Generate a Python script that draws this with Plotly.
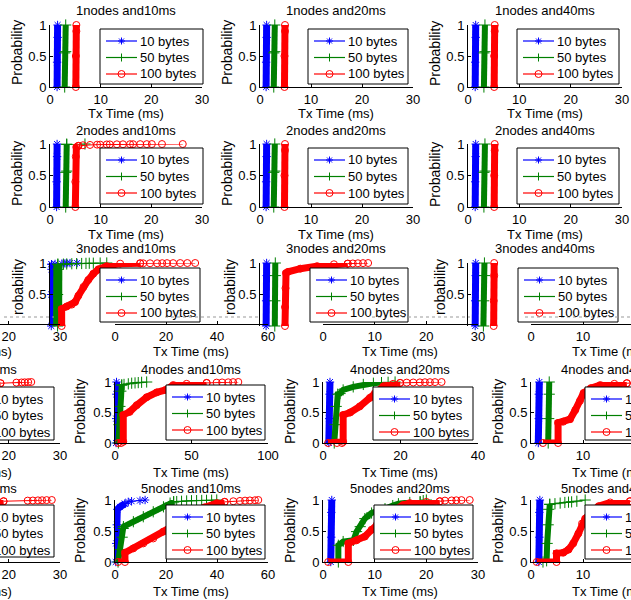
import plotly.graph_objects as go

W, H = 631, 600
FONT = "Liberation Sans, Arial, Helvetica, sans-serif"

# ---------------- data: empirical CDFs, Tx time (ms) vs cumulative probability ----------------
# <panel>_<payload>_x / _p : densely sampled part of the curve
# <panel>_<payload>_tx / _tp : sparse tail samples
n1_10_b10_x = [1.4, 1.4, 1.5, 1.5];  n1_10_b10_p = [0, 0.4, 0.8, 1]
n1_10_b50_x = [2.9, 2.9, 3.1, 3.1];  n1_10_b50_p = [0, 0.55, 0.57, 1]
n1_10_b100_x = [5.1, 5.1, 5.2, 5.2]; n1_10_b100_p = [0, 0.5, 0.9, 1]

n1_20_b10_x = [1.2, 1.2, 1.3, 1.3];  n1_20_b10_p = [0, 0.4, 0.8, 1]
n1_20_b50_x = [2.7, 2.7, 2.9, 2.9];  n1_20_b50_p = [0, 0.55, 0.57, 1]
n1_20_b100_x = [4.8, 4.8, 4.9, 4.9]; n1_20_b100_p = [0, 0.5, 0.9, 1]

n1_40_b10_x = [1.4, 1.4, 1.5, 1.5];  n1_40_b10_p = [0, 0.4, 0.8, 1]
n1_40_b50_x = [3.1, 3.1, 3.3, 3.3];  n1_40_b50_p = [0, 0.55, 0.57, 1]
n1_40_b100_x = [5.1, 5.1, 5.2, 5.2]; n1_40_b100_p = [0, 0.5, 0.9, 1]

n2_10_b10_x = [1.3, 1.3, 1.4, 1.4];  n2_10_b10_p = [0, 0.4, 0.8, 1]
n2_10_b50_x = [3.1, 3.1, 3.3, 3.3];  n2_10_b50_p = [0, 0.55, 0.57, 0.995]
n2_10_b50_tx = [6.9];                n2_10_b50_tp = [1]
n2_10_b100_x = [5.0, 5.0, 5.1, 5.2, 5.6]; n2_10_b100_p = [0, 0.4, 0.8, 0.95, 0.97]
n2_10_b100_tx = [6.5, 7.9, 9.3, 9.9, 11.2, 11.8, 13.2, 14.4, 15.8, 16.4, 17.8, 19.1, 20.1, 22.1, 26.2]
n2_10_b100_tp = [0.98, 0.985, 0.99, 0.99, 0.993, 0.994, 0.995, 0.996, 0.997, 0.997, 0.998, 0.998, 0.999, 0.999, 1]

n2_20_b10_x = [1.2, 1.2, 1.3, 1.3];  n2_20_b10_p = [0, 0.4, 0.8, 1]
n2_20_b50_x = [2.7, 2.7, 2.9, 2.9];  n2_20_b50_p = [0, 0.55, 0.57, 1]
n2_20_b100_x = [4.8, 4.8, 4.9, 4.9]; n2_20_b100_p = [0, 0.5, 0.9, 1]

n2_40_b10_x = [1.4, 1.4, 1.5, 1.5];  n2_40_b10_p = [0, 0.4, 0.8, 1]
n2_40_b50_x = [3.1, 3.1, 3.3, 3.3];  n2_40_b50_p = [0, 0.55, 0.57, 1]
n2_40_b100_x = [5.1, 5.1, 5.2, 5.2]; n2_40_b100_p = [0, 0.5, 0.9, 1]

n3_10_b10_x = [0.5, 0.5, 0.6, 0.6];  n3_10_b10_p = [0, 0.5, 0.9, 0.98]
n3_10_b10_tx = [2.0, 4.7, 5.9, 6.7, 7.9, 10.7]
n3_10_b10_tp = [0.985, 0.99, 0.993, 0.995, 0.998, 1]
n3_10_b50_x = [3.0, 3.0, 3.1, 3.1];  n3_10_b50_p = [0, 0.5, 0.9, 0.98]
n3_10_b50_tx = [5.3, 6.6, 8.6, 10.5, 12.5, 14.2, 15.5, 17.1, 19.8, 22.4]
n3_10_b50_tp = [0.982, 0.985, 0.988, 0.99, 0.992, 0.994, 0.996, 0.997, 0.999, 1]
n3_10_b100_x = [4.6, 4.6, 6.6, 8.6, 9.9, 11.2, 13.2, 15.1, 17.1, 19.1, 22.4, 27.7, 35.6]
n3_10_b100_p = [0, 0.27, 0.31, 0.34, 0.38, 0.48, 0.62, 0.73, 0.83, 0.90, 0.95, 0.99, 0.995]
n3_10_b100_tx = [36.8, 39.5, 42.3, 44.3, 46.2, 48.6, 51.4, 54.2, 57.3]
n3_10_b100_tp = [0.995, 0.996, 0.996, 0.997, 0.998, 0.998, 0.999, 0.999, 1]

n3_20_b10_x = [1.2, 1.2, 1.3, 1.3];  n3_20_b10_p = [0, 0.4, 0.8, 1]
n3_20_b50_x = [2.9, 2.9, 3.0, 3.0];  n3_20_b50_p = [0, 0.4, 0.8, 1]
n3_20_b100_x = [4.9, 4.9, 5.0, 5.1, 5.5, 7.9, 11.2, 14.5, 17.2]
n3_20_b100_p = [0, 0.3, 0.6, 0.84, 0.86, 0.91, 0.95, 0.98, 0.99]
n3_20_b100_tx = [18.2, 19.2, 20.2, 21.2]; n3_20_b100_tp = [0.993, 0.996, 0.998, 1]

n3_40_b10_x = [1.4, 1.4, 1.5, 1.5];  n3_40_b10_p = [0, 0.4, 0.8, 1]
n3_40_b50_x = [3.0, 3.0, 3.2, 3.2];  n3_40_b50_p = [0, 0.4, 0.8, 1]
n3_40_b100_x = [5.0, 5.0, 5.1, 5.1]; n3_40_b100_p = [0, 0.4, 0.8, 1]

n4_10_b10_x = [0.7, 0.8, 0.9, 1.0];  n4_10_b10_p = [0, 0.4, 0.8, 1]
n4_10_b50_x = [2.2, 2.6, 3.2, 3.8, 4.4]; n4_10_b50_p = [0, 0.3, 0.6, 0.85, 0.95]
n4_10_b50_tx = [5.9, 8.7, 10.9, 13.1, 15.2, 17.4, 20.7]
n4_10_b50_tp = [0.96, 0.97, 0.98, 0.985, 0.99, 0.995, 1]
n4_10_b100_x = [2.0, 4.0, 5.4, 5.4, 9.6, 14.2, 20.7, 27.3, 33.1, 38.1, 46.8, 59.9]
n4_10_b100_p = [0, 0, 0.02, 0.46, 0.51, 0.62, 0.75, 0.83, 0.87, 0.95, 0.97, 0.985]
n4_10_b100_tx = [66.4, 70.0, 74.0, 77.2, 80.6]; n4_10_b100_tp = [0.99, 0.993, 0.995, 0.998, 1]

n4_20_b10_x = [1.5, 1.6, 1.7, 1.8];  n4_20_b10_p = [0, 0.4, 0.8, 1]
n4_20_b50_x = [2.9, 3.1, 3.4, 3.8, 4.4, 5.2, 7.8, 10.4, 13.0, 15.1]
n4_20_b50_p = [0, 0.3, 0.6, 0.8, 0.81, 0.87, 0.92, 0.96, 0.98, 0.99]
n4_20_b50_tx = [16.8, 18.6]; n4_20_b50_tp = [0.995, 1]
n4_20_b100_x = [1.3, 3.6, 4.9, 5.2, 5.2, 7.0, 9.5, 12.1, 13.4, 15.6, 18.1, 19.9]
n4_20_b100_p = [0, 0, 0, 0.02, 0.46, 0.5, 0.6, 0.74, 0.82, 0.93, 0.97, 0.985]
n4_20_b100_tx = [21.6, 23.3, 25.0, 26.3, 27.6, 28.9, 30.6]
n4_20_b100_tp = [0.99, 0.992, 0.994, 0.996, 0.997, 0.998, 1]

n4_40_b10_x = [1.4, 1.5, 1.5, 1.6];  n4_40_b10_p = [0, 0.4, 0.8, 1]
n4_40_b50_x = [3.3, 3.4, 3.5, 3.5];  n4_40_b50_p = [0, 0.4, 0.8, 1]
n4_40_b100_x = [2.3, 5.2, 5.2, 6.2, 7.5, 8.5, 9.4, 10.1, 11.5, 13.3, 16.0, 18.4]
n4_40_b100_p = [0, 0, 0.33, 0.35, 0.39, 0.54, 0.69, 0.82, 0.9, 0.95, 0.97, 0.98]
n4_40_b100_tx = [21.5, 22.5, 23.1, 23.8, 24.4]; n4_40_b100_tp = [0.99, 0.993, 0.995, 0.997, 1]

n5_10_b10_x = [0.3, 0.5, 0.7, 0.9, 2.0, 3.9]; n5_10_b10_p = [0, 0.3, 0.6, 0.85, 0.89, 0.94]
n5_10_b10_tx = [5.2, 6.5, 9.8, 11.8]; n5_10_b10_tp = [0.97, 0.98, 0.99, 1]
n5_10_b50_x = [1.2, 2.0, 2.8, 3.2, 3.3, 7.2, 11.1, 15.0, 19.0, 21.6, 23.0]
n5_10_b50_p = [0, 0.2, 0.4, 0.54, 0.57, 0.65, 0.73, 0.81, 0.89, 0.95, 0.97]
n5_10_b50_tx = [24.2, 26.1, 28.1, 30.0, 32.0, 34.0, 35.9, 37.9, 39.9]
n5_10_b50_tp = [0.975, 0.98, 0.985, 0.988, 0.99, 0.993, 0.995, 0.997, 1]
n5_10_b100_x = [1.2, 3.9, 3.9, 7.2, 11.1, 15.0, 18.9, 25.0, 30.0, 35.0, 40.0, 43.0]
n5_10_b100_p = [0, 0, 0.15, 0.22, 0.30, 0.38, 0.49, 0.65, 0.78, 0.88, 0.95, 0.97]
n5_10_b100_tx = [46.4, 49.0, 51.0, 52.9, 54.9, 56.2]
n5_10_b100_tp = [0.98, 0.985, 0.99, 0.993, 0.996, 1]

n5_20_b10_x = [1.5, 1.6, 1.6, 1.7];  n5_20_b10_p = [0, 0.4, 0.8, 1]
n5_20_b50_x = [2.97, 2.97, 3.9, 5.9, 6.5, 7.2, 8.1, 9.4, 10.4, 12.0, 13.5, 14.6, 16.8, 18.8]
n5_20_b50_p = [0, 0.27, 0.33, 0.35, 0.49, 0.57, 0.70, 0.79, 0.81, 0.86, 0.91, 0.94, 0.96, 0.97]
n5_20_b50_tx = [19.4, 20.0]; n5_20_b50_tp = [0.99, 1]
n5_20_b100_x = [1.0, 4.9, 4.9, 6.5, 8.1, 9.4, 10.4, 12.0, 14.0, 15.5, 16.8, 20.0, 22.6]
n5_20_b100_p = [0, 0, 0.30, 0.35, 0.41, 0.52, 0.60, 0.72, 0.85, 0.92, 0.95, 0.97, 0.98]
n5_20_b100_tx = [23.6, 24.9, 25.8, 26.8, 28.4]; n5_20_b100_tp = [0.99, 0.993, 0.995, 0.998, 1]

n5_40_b10_x = [1.5, 1.6, 1.6, 1.7];  n5_40_b10_p = [0, 0.4, 0.8, 1]
n5_40_b50_x = [2.3, 3.0, 3.1, 3.3, 3.4, 3.6]; n5_40_b50_p = [0, 0.02, 0.3, 0.6, 0.85, 0.93]
n5_40_b50_tx = [4.6, 5.6, 6.5, 7.2, 7.8, 8.8, 10.4]
n5_40_b50_tp = [0.94, 0.95, 0.96, 0.965, 0.97, 0.98, 1]
n5_40_b100_x = [1.1, 4.9, 4.9, 6.2, 7.2, 8.1, 9.1, 9.8, 10.4, 11.5, 13.0, 15.2, 19.0]
n5_40_b100_p = [0, 0, 0.14, 0.15, 0.2, 0.3, 0.46, 0.62, 0.7, 0.8, 0.9, 0.96, 0.98]
n5_40_b100_tx = [23.7, 24.7, 25.7, 26.5, 27.4, 28.4]
n5_40_b100_tp = [0.99, 0.992, 0.994, 0.996, 0.998, 1]

SERIES = [("b10", "10 bytes"), ("b50", "50 bytes"), ("b100", "100 bytes")]

# ---------------- styles / layout (pixels) ----------------
STYLE = {
    "b10": dict(color="#0000ff", symbol="asterisk-open", size=7, band=7),
    "b50": dict(color="#008000", symbol="cross-thin-open", size=8, band=6),
    "b100": dict(color="#ff0000", symbol="circle-open", size=7, band=7),
}
BAND_OVERRIDE = {("n3_10", "b50"): 9, ("n3_10", "b10"): 5}

C1, C2, C3 = (50, 202), (260, 413), (468, 622)
LP, CA, CB, CC = (0, 60), (115, 268), (323, 478), (531, 631)
R1, R2, R3, R4, R5 = (25, 87), (144, 207), (263, 326), (382, 443), (500, 562)
RJ = (323, 324)

Y3 = [0, 0.5, 1]
PANELS = [
    ("n1_10", C1, R1, [0, 30], [0, 10, 20, 30], Y3),
    ("n1_20", C2, R1, [0, 30], [0, 10, 20, 30], Y3),
    ("n1_40", C3, R1, [0, 30], [0, 10, 20, 30], Y3),
    ("n2_10", C1, R2, [0, 30], [0, 10, 20, 30], Y3),
    ("n2_20", C2, R2, [0, 30], [0, 10, 20, 30], Y3),
    ("n2_40", C3, R2, [0, 30], [0, 10, 20, 30], Y3),
    ("n3_10", C1, R3, [0, 60], None, [0.5, 1]),
    ("n3_20", C2, R3, [0, 30], None, [0.5, 1]),
    ("n3_40", C3, R3, [0, 30], None, [0.5, 1]),
    (None, LP, RJ, [18.3, 30], [20, 30], None),
    (None, CA, RJ, [0, 60], [0, 20, 40, 60], None),
    (None, CB, RJ, [0, 30], [0, 10, 20, 30], None),
    (None, CC, RJ, [0, 19.2], [0, 10], None),
    ("n4_40", LP, R4, [18.3, 30], [20, 30], None),
    ("n4_10", CA, R4, [0, 100], [0, 50, 100], Y3),
    ("n4_20", CB, R4, [0, 40], [0, 20, 40], Y3),
    ("n4_40", CC, R4, [0, 19.2], [0, 10], Y3),
    ("n5_40", LP, R5, [18.3, 30], [20, 30], None),
    ("n5_10", CA, R5, [0, 60], [0, 20, 40, 60], Y3),
    ("n5_20", CB, R5, [0, 30], [0, 10, 20, 30], Y3),
    ("n5_40", CC, R5, [0, 19.2], [0, 10], Y3),
]


def X(px):
    return px / W


def Y(py):
    return 1 - py / H


g = globals()
fig = go.Figure()
layout = dict(
    width=W, height=H,
    margin=dict(l=0, r=0, t=0, b=0, autoexpand=False),
    paper_bgcolor="white", plot_bgcolor="rgba(0,0,0,0)",
    showlegend=False,
    font=dict(family=FONT, size=13, color="black"),
)

for i, (key, (L, R), (T, B), xr, xt, yt) in enumerate(PANELS, start=1):
    sfx = "" if i == 1 else str(i)
    common = dict(showline=True, linecolor="black", linewidth=1, ticks="inside", ticklen=3,
                  tickcolor="black", showgrid=False, zeroline=False, fixedrange=True,
                  tickfont=dict(size=13, family=FONT, color="black"))
    layout["xaxis" + sfx] = dict(domain=[X(L), X(R)], range=xr, anchor="y" + sfx,
                                 visible=xt is not None, tickvals=xt or [], **common)
    layout["yaxis" + sfx] = dict(domain=[Y(B), Y(T)], range=[0, 1], anchor="x" + sfx,
                                 visible=yt is not None, tickvals=yt or [], **common)
    if key is None:
        fig.add_trace(go.Scatter(x=[None], y=[None], xaxis="x" + sfx, yaxis="y" + sfx,
                                 mode="markers", hoverinfo="skip"))
        continue
    for s, _ in SERIES:
        st = STYLE[s]
        xs = g[f"{key}_{s}_x"]
        ps = g[f"{key}_{s}_p"]
        band = BAND_OVERRIDE.get((key, s), st["band"])
        mk = dict(symbol=st["symbol"], size=st["size"], color=st["color"],
                  line=dict(color=st["color"], width=1))
        fig.add_trace(go.Scatter(x=xs, y=ps, xaxis="x" + sfx, yaxis="y" + sfx,
                                 mode="lines+markers", line=dict(color=st["color"], width=band),
                                 marker=mk, cliponaxis=False, hoverinfo="skip"))
        tx = g.get(f"{key}_{s}_tx")
        if tx:
            tp = g[f"{key}_{s}_tp"]
            fig.add_trace(go.Scatter(x=[xs[-1]] + tx, y=[ps[-1]] + tp,
                                     xaxis="x" + sfx, yaxis="y" + sfx,
                                     mode="lines+markers", line=dict(color=st["color"], width=1),
                                     marker=mk, cliponaxis=False, hoverinfo="skip"))

shapes = []
annotations = []


def text(t, px, py, anchor="center", angle=0, size=13):
    annotations.append(dict(text=t, x=X(px), y=Y(py), xref="paper", yref="paper",
                            showarrow=False, xanchor=anchor, yanchor="middle",
                            textangle=angle, font=dict(family=FONT, size=size, color="black")))


def seg(x0, y0, x1, y1, color, width=1, dash=None):
    ln = dict(color=color, width=width)
    if dash:
        ln["dash"] = dash
    shapes.append(dict(type="line", xref="paper", yref="paper", x0=X(x0), y0=Y(y0),
                       x1=X(x1), y1=Y(y1), line=ln, layer="above"))


def legend_box(L, T, R, B):
    shapes.append(dict(type="rect", xref="paper", yref="paper", x0=X(L), x1=X(R),
                       y0=Y(B), y1=Y(T), fillcolor="white",
                       line=dict(color="black", width=1), layer="above"))
    for j, (s, label) in enumerate(SERIES):
        cy = T + [12, 28.5, 45][j]
        col = STYLE[s]["color"]
        seg(L + 6, cy, L + 37, cy, col, 1.2)
        mx = L + 21.5
        if s == "b10":
            seg(mx - 3.5, cy, mx + 3.5, cy, col)
            seg(mx, cy - 3.5, mx, cy + 3.5, col)
            seg(mx - 2.5, cy - 2.5, mx + 2.5, cy + 2.5, col)
            seg(mx - 2.5, cy + 2.5, mx + 2.5, cy - 2.5, col)
        elif s == "b50":
            seg(mx - 4, cy, mx + 4, cy, col)
            seg(mx, cy - 4, mx, cy + 4, col)
        else:
            shapes.append(dict(type="circle", xref="paper", yref="paper",
                               x0=X(mx - 3.5), x1=X(mx + 3.5), y0=Y(cy + 3.5), y1=Y(cy - 3.5),
                               line=dict(color=col, width=1), fillcolor="rgba(0,0,0,0)",
                               layer="above"))
        text(label, L + 38, cy, "left")


# legends
for (L, T, R, B) in [(100, 29, 203, 84), (308, 29, 408, 84), (517, 29, 619, 84),
                     (100, 148, 203, 204), (308, 148, 408, 204), (517, 148, 619, 204),
                     (100, 268, 200, 322), (310, 268, 408, 322), (518, 268, 618, 322),
                     (-46, 387, 54, 440), (166, 385, 265, 440), (373, 387, 473, 440), (585, 387, 690, 440),
                     (-46, 505, 54, 557), (166, 505, 265, 559), (374, 505, 473, 559), (585, 505, 690, 559)]:
    legend_box(L, T, R, B)

# compressed overlap debris band
for a, b in [(4, 54), (165, 258), (372, 470), (525, 631)]:
    seg(a, 317, b, 317, "#999999", 1, "dot")

# titles
for n, ty in [(1, 11), (2, 130), (3, 248)]:
    for ms, cx in [(10, 126), (20, 336), (40, 545)]:
        text(f"{n}nodes and{ms}ms", cx, ty)
for n, ty in [(4, 369), (5, 488)]:
    text(f"{n}nodes and40ms", 19, ty, "right")
    text(f"{n}nodes and10ms", 191, ty)
    text(f"{n}nodes and20ms", 400, ty)
    text(f"{n}nodes and40ms", 559, ty, "left")

# x labels
for ty in [114, 234]:
    for cx in [126, 336, 545]:
        text("Tx Time (ms)", cx, ty)
for ty in [351, 472, 591]:
    text("Tx Time (ms)", 14, ty, "right")
    text("Tx Time (ms)", 191, ty)
    text("Tx Time (ms)", 400, ty)
    text("Tx Time (ms)", 570, ty, "left")

# y labels
for cy in [53, 174]:
    for cx in [17, 227, 435]:
        text("Probability", cx, cy, angle=-90, size=14)
for cx in [18, 230, 440]:
    text("robability", cx, 287, angle=-90, size=14)
for cy in [412, 531]:
    for cx in [80, 290, 498]:
        text("Probability", cx, cy, angle=-90, size=14)

layout["shapes"] = shapes
layout["annotations"] = annotations
fig.update_layout(**layout)

fig.write_html("out.html", config={"displayModeBar": False, "staticPlot": True},
               post_script="document.body.style.margin='0';document.body.style.overflow='hidden';")
